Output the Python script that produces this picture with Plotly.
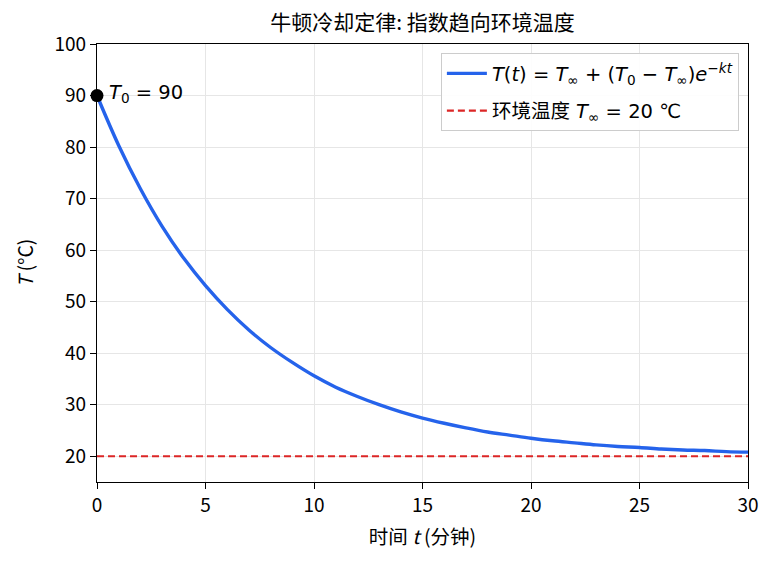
import plotly.graph_objects as go

# Values (temperature in °C at each minute)
t_minutes = list(range(0, 31))
temperature = [90.0, 80.3, 71.9, 64.6, 58.4, 53.1, 48.5, 44.5, 41.1, 38.2,
               35.6, 33.4, 31.6, 30.0, 28.6, 27.4, 26.4, 25.5, 24.7, 24.1,
               23.5, 23.0, 22.6, 22.2, 21.9, 21.7, 21.4, 21.2, 21.1, 20.9, 20.8]
ambient_x = [0, 30]
ambient_y = [20, 20]
x_ticks = [0, 5, 10, 15, 20, 25, 30]
y_ticks = [20, 30, 40, 50, 60, 70, 80, 90, 100]

FONT = "Noto Sans CJK SC, Noto Sans, DejaVu Sans, sans-serif"
MATH = "DejaVu Sans, Noto Sans CJK SC, sans-serif"

fig = go.Figure()
fig.add_trace(go.Scatter(
    x=t_minutes, y=temperature, mode="lines", line_shape="spline",
    line=dict(color="#2563eb", width=3.4), legendgroup="a",
    name="<i>T</i>(<i>t</i>) = <i>T</i><sub>∞</sub> + (<i>T</i><sub>0</sub> − <i>T</i><sub>∞</sub>)<i>e</i><sup>−<i>kt</i></sup>",
))
fig.add_trace(go.Scatter(
    x=ambient_x, y=ambient_y, mode="lines", legendgroup="b",
    line=dict(color="#dc2626", width=2.2, dash="7px,4px"),
    name="<span style='font-family:Noto Sans CJK SC'>环境温度</span> <i>T</i><sub>∞</sub> = 20 ℃",
))
fig.add_trace(go.Scatter(
    x=[t_minutes[0]], y=[temperature[0]], mode="markers",
    marker=dict(color="black", size=13), cliponaxis=False, showlegend=False,
))
fig.add_annotation(
    x=t_minutes[0], y=temperature[0], text="<i>T</i><sub>0</sub> = 90",
    showarrow=False, xanchor="left", yanchor="middle", xshift=10, yshift=2,
    font=dict(size=19.5, color="black", family=MATH),
)

tick_font = dict(size=19, color="black", family=FONT)
axis_common = dict(
    showline=True, linecolor="black", linewidth=1.3, mirror=True,
    ticks="outside", ticklen=6, tickwidth=1.3, tickcolor="black",
    showgrid=True, gridcolor="#e6e6e6", gridwidth=1, zeroline=False,
    tickfont=tick_font,
)
fig.update_xaxes(range=[0, 30], tickvals=x_ticks, **axis_common,
                 title=dict(text="时间 <i>t</i> (分钟)", font=dict(size=19.5, color="black", family=FONT), standoff=14))
fig.update_yaxes(range=[15, 100], tickvals=y_ticks, **axis_common,
                 title=dict(text="<i>T</i>\u00a0(°C)", font=dict(size=19.5, color="black", family=FONT), standoff=15))

fig.update_layout(
    width=775, height=568,
    margin=dict(l=97, r=27, t=44, b=86),
    paper_bgcolor="white", plot_bgcolor="white",
    font=dict(family=FONT, color="black"),
    title=dict(text="牛顿冷却定律: 指数趋向环境温度", x=(97 + 748) / 2 / 775, xanchor="center",
               y=1 - 23 / 568, yanchor="middle", font=dict(size=21, color="black", family=FONT)),
    legend=dict(x=0.986, y=0.979, xanchor="right", yanchor="top",
                bordercolor="#cccccc", borderwidth=1, bgcolor="rgba(255,255,255,0.9)",
                font=dict(size=19.5, color="black", family=MATH),
                traceorder="grouped", tracegroupgap=9, itemwidth=40),
)

fig.write_html("out.html")
